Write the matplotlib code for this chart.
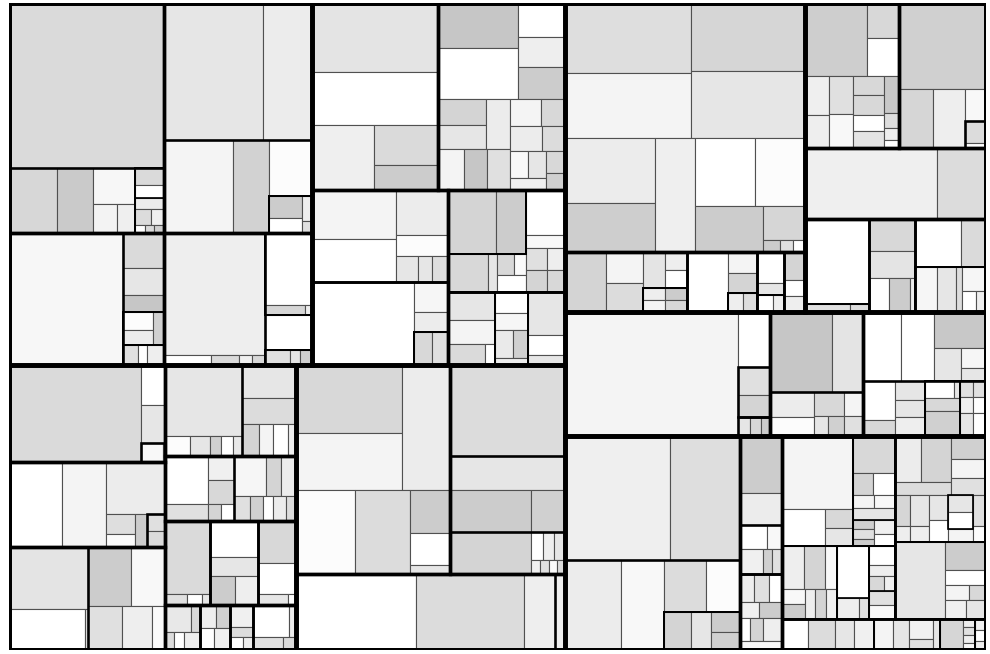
import matplotlib
matplotlib.use("Agg")
import matplotlib.pyplot as plt
from matplotlib.patches import Rectangle

# ---------------- hierarchical data ----------------
# list  = drawn node (black border), tuple = undrawn grouping, number = leaf value

# Region A (top-left)
A1 = [252.7, [30.6, 23.4, (14.8, (6.7, 5.2)), [(4.9, 3.5), [3.1, (2.4, 2.1), (0.8, 0.8, 0.8)]]]]
A2 = [(134.6, 65.3), [63.5, 33.1, (23.1, [(7.0, 4.8), (2.5, 1.2)])]]
A3 = [149.2, [(14.0, 10.8, 6.8), ([(5.4, 4.5), 3.3], [3.0, 1.8, 3.2])]]
A4 = [(122.0, (4.8, 2.8, 1.3, 1.3)), [[33.4, (3.8, 0.6)], 16.5, [3.8, 1.5, 1.8]]]
A = [(A1, A2), (A3, A4)]
A_grays = [0xda, 0xd7, 0xca, 0xf7, 0xf3, 0xef, 0xda, 0xff, 0xec, 0xdc, 0xf0, 0xff, 0xda, 0xd0,
           0xe6, 0xec, 0xf4, 0xd2, 0xfc, 0xcc, 0xff, 0xee, 0xe0,
           0xf7, 0xda, 0xe6, 0xc6, 0xfc, 0xec, 0xd0, 0xe0, 0xff, 0xee,
           0xee, 0xff, 0xda, 0xf0, 0xd8, 0xff, 0xd6, 0xee, 0xff, 0xe0, 0xe6, 0xd0]

# Region B
B1 = [85.7, 66.0, (40.3, (25.8, 15.3))]
B2 = [((36.0, 40.0), (16.0, 13.6, 15.0)),
      ((((12.5, 11.5), 12.0), (10.4, 9.2, 9.2)),
       ((8.4, 6.5), (7.8, 5.8), (((4.7, 4.7), 4.3), (4.0, 3.2))))]
B3 = [[(41.2, 36.1), (23.0, 10.7, (5.7, 3.4, 4.2))], [83.8, (10.2, 6.8, [6.0, 5.2])]]
B4 = [[([30.2, 18.9], (15.2, 3.6, ((3.5, 2.6), 5.0))), (17.6, 5.2, ((4.6, 4.0), (4.6, 4.0)))],
      [[12.7, 11.3, (7.8, 2.0)], [6.6, 5.6, (5.0, 4.2), 2.3], [16.0, 7.6, 3.8]]]
B = [(B1, B2), (B3, B4)]
B_grays = [0xe4, 0xff, 0xef, 0xda, 0xcc,
           0xc6, 0xff, 0xff, 0xee, 0xcc, 0xd4, 0xe6, 0xec, 0xf4, 0xc6, 0xe0, 0xf4, 0xd8, 0xec, 0xdc,
           0xf8, 0xe6, 0xf0, 0xd8, 0xd0,
           0xf4, 0xff, 0xec, 0xfc, 0xe6, 0xe6, 0xde, 0xff, 0xf6, 0xec, 0xd8, 0xe0,
           0xd4, 0xcc, 0xd8, 0xe6, 0xd8, 0xfa, 0xff, 0xff, 0xf8, 0xe0, 0xee, 0xd4, 0xd8,
           0xe6, 0xf4, 0xda, 0xff, 0xff, 0xf6, 0xea, 0xd0, 0xee, 0xe6, 0xff, 0xe6]

# Region C
C1 = [126.0, (9.5, 9.2, [4.0, 0.5])]
C2 = [44.2, 36.6, (30.2, ((5.6, 3.6), 4.0, [3.0, 2.9]))]
C3 = [(48.4, (30.8, 1.2)), [(25.2, 19.8), (14.9, 13.1, 5.9)]]
C4 = [(53.2, (5.0, 3.8, 2.2, 2.4, 1.8)), [17.3, 14.0, (5.4, 4.2, 4.5, 2.6)]]
C5 = [((20.6, 7.3), ((6.2, 6.2), (2.2, 2.2))), [(12.4, 6.2, 5.8), (3.8, 3.4, 2.4, 3.2, 2.5)]]
C6 = [[32.4, (2.4, 1.6, 0.9)], [16.9, 8.9, (6.8, 6.4)], [16.0, 11.4, (3.3, 0.9)]]
C7 = [[(6.8, 2.6), (1.6, 1.8, 2.9)], [(3.7, 3.3), (3.0, 3.5)], [4.8, 2.2, (1.6, 1.3)],
      [(11.5, 2.3), (3.9, 1.7)]]
C = [(C1, C2, C3), (C4, C5, C6, C7)]
C_grays = [0xda, 0xff, 0xe6, 0xf8, 0xe0,
           0xff, 0xf4, 0xec, 0xde, 0xfa, 0xcc, 0xe0, 0xda,
           0xe4, 0xff, 0xe0, 0xcc, 0xf8, 0xe0, 0xee, 0xfa,
           0xe6, 0xfc, 0xe6, 0xd0, 0xff, 0xe8, 0xe6, 0xdc, 0xd4, 0xf4, 0xff, 0xee,
           0xff, 0xe0, 0xf0, 0xd8, 0xd4, 0xff, 0xf6, 0xd4, 0xec, 0xe0, 0xd0, 0xff, 0xec, 0xdc,
           0xda, 0xe0, 0xff, 0xe6, 0xff, 0xe6, 0xcc, 0xee, 0xd8, 0xff, 0xe6, 0xff,
           0xe8, 0xd8, 0xdc, 0xff, 0xee, 0xee, 0xd0, 0xff, 0xf0, 0xf0, 0xdc, 0xff, 0xee, 0xff,
           0xee, 0xe0, 0xda]

# Region D
D1 = [((70.6, 59.9), 58.6), (49.2, 45.1, (16.8, 12.4, 3.6))]
D2 = [[104.1], 38.6, (33.6, 14.4), [33.6, ((3.2, 3.0, 3.2), (1.3, 1.3, 1.2, 1.2))]]
D3 = [90.0, 81.0, 22.9, [7.9]]
D = [(D1, D2), D3]
D_grays = [0xd8, 0xf4, 0xec, 0xfc, 0xdc, 0xcc, 0xff, 0xe6,
           0xdc, 0xe6, 0xcc, 0xd0, 0xd4, 0xff, 0xee, 0xe6, 0xf0, 0xe0, 0xfa, 0xdc,
           0xff, 0xdc, 0xee, 0xee]

# Region E
E1 = [((87.0, 80.6), (76.4, 76.4)),
      ((56.5, 43.4), 45.1, ((40.1, 33.5), (31.1, (14.3, (2.0, 1.5, 1.5)))))]
E2 = [[24.0, (11.5, 10.7), ((7.6, (4.0, 3.9)), [(2.5, 2.5), (2.6, 2.7)])],
      [24.6, (5.9, 5.6, [2.7, 2.6])], [8.4, 3.2, [2.8, 1.8]], [5.9, 3.4, 3.3]]
E = [E1, E2]
E_grays = [0xde, 0xf4, 0xd6, 0xe6, 0xec, 0xce, 0xef, 0xff, 0xfc, 0xcc, 0xd6, 0xcc, 0xe0, 0xff,
           0xd4, 0xf4, 0xdc, 0xe4, 0xee, 0xff, 0xee, 0xf4, 0xcc, 0xd8,
           0xff, 0xf4, 0xd4, 0xee, 0xdd, 0xff, 0xe6, 0xff, 0xee, 0xd4, 0xff, 0xee]

# Region F
F1a = [(44.5, (10.9, 11.8)),
       ((9.4, 7.6), (9.0, 7.9), ((5.9, 6.2), (4.8, 5.1)), (5.5, (2.1, 1.8, 1.1)))]
F1b = [74.0, (19.7, 18.0, (6.7, [4.6, 1.0]))]
F2 = [93.0, 35.0]
F3 = [[52.9, [3.5, 1.5]], [14.3, 12.4, (6.9, 6.8, 1.9)],
      [(21.6, 11.8), [(9.5, 8.6, 2.7), (5.5, (2.8, 2.2))]]]
F = [(F1a, F1b), F2, F3]
F_grays = [0xce, 0xd8, 0xff, 0xef, 0xee, 0xe0, 0xf8, 0xd8, 0xd8, 0xff, 0xe4, 0xc8, 0xdd, 0xee, 0xff,
           0xd0, 0xd6, 0xee, 0xf8, 0xdc, 0xff,
           0xef, 0xdc,
           0xff, 0xe0, 0xdd, 0xd8, 0xe4, 0xff, 0xcc, 0xee, 0xff, 0xda, 0xf6, 0xe6, 0xdd, 0xf6, 0xff, 0xee]

# Region G
G1 = [212.0, (17.1, [8.7, 6.8], [2.3, 1.9, 1.7])]
G2 = [[48.8, 24.8], ((10.8, 8.6), (7.5, (2.8, 3.2)), (4.5, 3.9))]
G3 = [(26.2, 22.1, (18.7, (8.9, (5.0, 3.3)))),
      [((12.1, 5.3), (5.5, 4.9, 5.8)), [(4.6, 1.0), 4.6, 8.8], [(2.0, 2.0), (2.0, 2.0), (3.0, 3.0)]]]
G = [G1, G2, G3]
G_grays = [0xf4, 0xff, 0xe0, 0xd4, 0xe6, 0xd8, 0xcc,
           0xc6, 0xe4, 0xec, 0xfc, 0xd8, 0xe6, 0xd0, 0xf4, 0xe0,
           0xff, 0xff, 0xc8, 0xe6, 0xf6, 0xe6, 0xff, 0xd8, 0xe6, 0xe6, 0xee, 0xff, 0xe6, 0xd8, 0xd0,
           0xe0, 0xe0, 0xf0, 0xff, 0xe6, 0xff]

# Region H
H1 = [(127.0, 85.0), [50.0, 38.2, ((21.3, 17.7), [9.9, 7.6, (5.8, 5.2)])]]
H2 = [(23.7, 13.3), [(6.5, 3.8), (5.5, 2.2, 2.6)], [(4.0, 4.3, 3.7), (3.0, 3.5), (2.2, 2.9, 4.4), 3.9]]
H3a = [([50.4, (16.0, (5.4, 4.9))],
        [15.2, (4.4, 4.6), (2.6, 2.7), 4.9, [(2.0, 2.0, 1.5), (3.0, 2.5)]]),
       ([(9.0, 9.0, 4.7), ((3.5, 3.3), 3.1, 3.4, 3.1)],
        [16.8, [4.7, 2.1]],
        [4.8, 2.7, (2.1, 1.6), [3.6, 3.6]])]
H3b = [[(((11.9, 13.4), 7.3), (7.8, 6.7, 6.0)),
        ((4.6, 2.5), (5.7, 3.0), (4.6, 4.2), ([4.2, 4.2], 3.4), (3.9, 2.0))],
       [38.0, (11.0, 6.1, (3.5, 2.6), (4.0, 3.9))]]
H3c = [[7.8, 8.1, 5.9, 5.9], [5.8, 5.0, (4.6, 2.6), 2.2], [6.8, (0.9, 1.0, 0.9, 0.9)], [1.2, 1.2, 1.0]]
H3 = [(H3a, H3b), H3c]
H = [H1, H2, H3]
H_grays = [0xef, 0xde, 0xec, 0xf8, 0xdc, 0xfc, 0xd4, 0xe6, 0xcc, 0xd0,
           0xcc, 0xec, 0xff, 0xf8, 0xf0, 0xd0, 0xe0, 0xee, 0xe0, 0xff, 0xf0, 0xcc, 0xff, 0xd4, 0xee, 0xf8,
           0xf4, 0xff, 0xd8, 0xe6, 0xd8, 0xd4, 0xff, 0xf4, 0xf8, 0xe6, 0xd0, 0xe0, 0xcc, 0xf0, 0xff,
           0xee, 0xd4, 0xf8, 0xf8, 0xcc, 0xee, 0xd4, 0xf0, 0xff, 0xee, 0xe0, 0xff, 0xee, 0xd8, 0xf0,
           0xe0, 0xf8,
           0xec, 0xd4, 0xdc, 0xd0, 0xf4, 0xe0, 0xd6, 0xee, 0xe6, 0xee, 0xe6, 0xff, 0xe6, 0xff, 0xf4,
           0xe0, 0xfc, 0xe6, 0xcc, 0xff, 0xf4, 0xd8, 0xf0, 0xe6,
           0xff, 0xdc, 0xe6, 0xf0, 0xf4, 0xe6, 0xf0, 0xe0, 0xe6, 0xd6, 0xee, 0xe0, 0xee, 0xf8, 0xf0,
           0xff, 0xee]

ROOT = [((A, B), (C, D)), (((E, F), G), H)]
GRAYS = A_grays + B_grays + C_grays + D_grays + E_grays + F_grays + G_grays + H_grays

# ---------------- layout: slice each group along its longer side ----------------
def total(n):
    if isinstance(n, (int, float)):
        return float(n)
    return sum(total(c) for c in n)

leaves, nodes = [], []

def layout(n, x0, y0, x1, y1, depth):
    if isinstance(n, (int, float)):
        leaves.append((x0, y0, x1, y1))
        return
    if isinstance(n, list):
        nodes.append((x0, y0, x1, y1, depth))
        cd = depth + 1
    else:
        cd = depth
    tot = total(n)
    w, h = x1 - x0, y1 - y0
    pos = x0 if w >= h else y0
    for c in n:
        f = total(c) / tot
        if w >= h:
            nx = pos + w * f
            layout(c, pos, y0, nx, y1, cd)
            pos = nx
        else:
            ny = pos + h * f
            layout(c, x0, pos, x1, ny, cd)
            pos = ny

W, Hh = 977.0, 647.0
layout(ROOT, 0, 0, W, Hh, 0)

# ---------------- drawing ----------------
fig = plt.figure(figsize=(9.9, 6.54), dpi=100)
fig.patch.set_facecolor("white")
ax = fig.add_axes([9 / 990, 4 / 654, 977 / 990, 647 / 654])
ax.set_xlim(0, W)
ax.set_ylim(Hh, 0)
ax.axis("off")

PX = 0.72
for i, (x0, y0, x1, y1) in enumerate(leaves):
    g = GRAYS[i % len(GRAYS)] / 255.0
    ax.add_patch(Rectangle((x0, y0), x1 - x0, y1 - y0, facecolor=(g, g, g),
                           edgecolor="#505050", linewidth=1.1 * PX, zorder=1))

lw_px = {0: 5.0, 1: 4.6, 2: 3.4, 3: 2.6, 4: 2.0, 5: 1.7}
for (x0, y0, x1, y1, d) in sorted(nodes, key=lambda t: -t[4]):
    ax.add_patch(Rectangle((x0, y0), x1 - x0, y1 - y0, facecolor="none",
                           edgecolor="black", linewidth=lw_px.get(d, 1.5) * PX,
                           zorder=10 - d))

fig.savefig("out.png", dpi=100)
